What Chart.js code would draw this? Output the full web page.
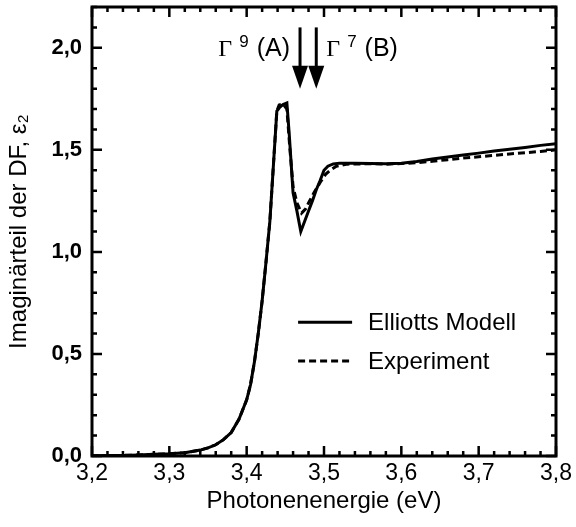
<!DOCTYPE html>
<html>
<head>
<meta charset="utf-8">
<script src="https://cdn.jsdelivr.net/npm/chart.js@4.4.1/dist/chart.umd.min.js"></script>
<style>
  html, body { margin: 0; padding: 0; background: #fff; }
  canvas { display: block; }
</style>
</head>
<body>
<canvas id="myChart" width="576" height="527"></canvas>
<script>
// photon energy (eV) and imaginary part eps2
const modelEnergy = [3.20, 3.22, 3.24, 3.26, 3.28, 3.30, 3.32, 3.34, 3.35, 3.36, 3.37, 3.38, 3.39, 3.40, 3.405, 3.41, 3.415, 3.42, 3.425, 3.43, 3.435, 3.439, 3.443, 3.447, 3.452, 3.455, 3.460, 3.465, 3.470, 3.475, 3.480, 3.485, 3.490, 3.495, 3.500, 3.505, 3.512, 3.52, 3.54, 3.56, 3.58, 3.60, 3.62, 3.64, 3.66, 3.68, 3.70, 3.72, 3.74, 3.76, 3.78, 3.80];
const modelEps2 = [0.001, 0.002, 0.003, 0.005, 0.008, 0.011, 0.016, 0.029, 0.040, 0.055, 0.080, 0.115, 0.180, 0.275, 0.350, 0.460, 0.600, 0.760, 0.950, 1.150, 1.450, 1.690, 1.710, 1.722, 1.730, 1.580, 1.290, 1.200, 1.100, 1.150, 1.200, 1.250, 1.305, 1.350, 1.400, 1.420, 1.431, 1.435, 1.435, 1.433, 1.432, 1.435, 1.443, 1.455, 1.465, 1.475, 1.484, 1.494, 1.503, 1.512, 1.522, 1.530];

const expEnergy = [3.20, 3.22, 3.24, 3.26, 3.28, 3.30, 3.32, 3.34, 3.35, 3.36, 3.37, 3.38, 3.39, 3.40, 3.405, 3.41, 3.415, 3.42, 3.425, 3.43, 3.435, 3.439, 3.442, 3.447, 3.452, 3.456, 3.460, 3.465, 3.471, 3.476, 3.480, 3.487, 3.495, 3.502, 3.508, 3.516, 3.53, 3.56, 3.58, 3.60, 3.62, 3.64, 3.66, 3.68, 3.70, 3.72, 3.74, 3.76, 3.78, 3.80];
const expEps2 = [0.001, 0.002, 0.003, 0.005, 0.008, 0.011, 0.016, 0.029, 0.040, 0.055, 0.080, 0.115, 0.180, 0.275, 0.350, 0.460, 0.600, 0.760, 0.950, 1.150, 1.450, 1.690, 1.720, 1.725, 1.700, 1.500, 1.320, 1.240, 1.190, 1.210, 1.240, 1.290, 1.340, 1.380, 1.400, 1.420, 1.430, 1.432, 1.430, 1.433, 1.437, 1.444, 1.452, 1.460, 1.466, 1.473, 1.480, 1.486, 1.492, 1.500];

const xTicks = [3.2, 3.3, 3.4, 3.5, 3.6, 3.7, 3.8];
const yTicks = [0.0, 0.5, 1.0, 1.5, 2.0];

// exciton transitions marked with arrows
const transitions = [
  { label: "9", name: "(A)", energy: 3.469, side: "left" },
  { label: "7", name: "(B)", energy: 3.490, side: "right" },
];

const seriesNames = ["Elliotts Modell", "Experiment"];

const FONT = "'Liberation Sans', Arial, sans-serif";
const SERIF = "'Liberation Serif', 'Times New Roman', serif";

const toPoints = (xs, ys) => xs.map((x, i) => ({ x: x, y: ys[i] }));
const comma = (v) => v.toFixed(1).replace(".", ",");

// frame, inward ticks, arrows and legend
const decorations = {
  id: "decorations",
  afterDatasetsDraw(chart) {
    const { ctx, chartArea: a, scales } = chart;
    const xs = scales.x, ys = scales.y;
    ctx.save();
    ctx.strokeStyle = "#000";
    ctx.fillStyle = "#000";
    ctx.lineCap = "butt";

    // ticks on all four sides
    ctx.lineWidth = 2.5;
    ctx.beginPath();
    for (let i = 0; i <= 30; i++) {
      const px = xs.getPixelForValue(3.2 + i * 0.02);
      const len = i % 5 === 0 ? 10 : 5;
      ctx.moveTo(px, a.bottom); ctx.lineTo(px, a.bottom - len);
      ctx.moveTo(px, a.top); ctx.lineTo(px, a.top + len);
    }
    for (let i = 0; i <= 22; i++) {
      const py = ys.getPixelForValue(i * 0.1);
      const len = i % 5 === 0 ? 10 : 5;
      ctx.moveTo(a.left, py); ctx.lineTo(a.left + len, py);
      ctx.moveTo(a.right, py); ctx.lineTo(a.right - len, py);
    }
    ctx.stroke();

    // frame
    ctx.lineWidth = 3;
    ctx.strokeRect(a.left, a.top, a.right - a.left, a.bottom - a.top);

    // arrows with labels
    const yTop = ys.getPixelForValue(2.10);
    const yTip = ys.getPixelForValue(1.80);
    transitions.forEach((t) => {
      const px = xs.getPixelForValue(t.energy);
      ctx.lineWidth = 3;
      ctx.beginPath();
      ctx.moveTo(px, yTop);
      ctx.lineTo(px, yTip - 18);
      ctx.stroke();
      ctx.beginPath();
      ctx.moveTo(px - 8, yTip - 23);
      ctx.lineTo(px + 8, yTip - 23);
      ctx.lineTo(px, yTip);
      ctx.closePath();
      ctx.fill();

      const base = ys.getPixelForValue(1.96);
      ctx.textBaseline = "alphabetic";
      ctx.textAlign = "left";
      ctx.font = "24px " + SERIF;
      const gW = ctx.measureText("Γ").width;
      ctx.font = "17px " + FONT;
      const sW = ctx.measureText(t.label).width;
      ctx.font = "25px " + FONT;
      const nW = ctx.measureText(t.name).width;
      const total = gW + 7 + sW + 8 + nW;
      let x0 = t.side === "left" ? px - 10 - total : px + 10;
      ctx.font = "24px " + SERIF;
      ctx.fillText("Γ", x0, base);
      x0 += gW + 7;
      ctx.font = "17px " + FONT;
      ctx.fillText(t.label, x0, base - 9);
      x0 += sW + 8;
      ctx.font = "25px " + FONT;
      ctx.fillText(t.name, x0, base);
    });

    // legend
    const lx = xs.getPixelForValue(3.4665);
    const lx2 = lx + 54;
    const rows = [ys.getPixelForValue(0.655), ys.getPixelForValue(0.466)];
    chart.data.datasets.forEach((ds, i) => {
      ctx.lineWidth = 3;
      ctx.setLineDash(ds.borderDash || []);
      ctx.beginPath();
      ctx.moveTo(lx, rows[i]);
      ctx.lineTo(lx2, rows[i]);
      ctx.stroke();
      ctx.setLineDash([]);
      ctx.font = "24px " + FONT;
      ctx.textAlign = "left";
      ctx.textBaseline = "middle";
      ctx.fillText(ds.label, lx2 + 16, rows[i] + 1);
    });
    ctx.restore();
  },
};

new Chart(document.getElementById("myChart"), {
  type: "line",
  data: {
    datasets: [
      {
        label: seriesNames[0],
        data: toPoints(modelEnergy, modelEps2),
        borderColor: "#000",
        borderWidth: 3,
        pointRadius: 0,
        tension: 0,
      },
      {
        label: seriesNames[1],
        data: toPoints(expEnergy, expEps2),
        borderColor: "#000",
        borderWidth: 3,
        borderDash: [7, 4],
        pointRadius: 0,
        tension: 0,
      },
    ],
  },
  options: {
    responsive: false,
    animation: false,
    layout: { padding: { top: 7, right: 20, left: 0, bottom: 0 } },
    plugins: { legend: { display: false }, tooltip: { enabled: false } },
    scales: {
      x: {
        type: "linear",
        min: 3.2,
        max: 3.8,
        grid: { display: false, drawTicks: false },
        border: { display: false },
        afterBuildTicks: (s) => { s.ticks = xTicks.map((v) => ({ value: v })); },
        afterFit: (s) => {
          s.height = 71;
          s.paddingLeft = 0;
          s.paddingRight = 0;
        },
        ticks: {
          color: "#000",
          padding: 4,
          maxRotation: 0,
          autoSkip: false,
          font: { family: FONT, size: 23 },
          callback: (v) => comma(v),
        },
        title: {
          display: true,
          text: "Photonenenergie (eV)",
          color: "#000",
          font: { family: FONT, size: 24 },
          padding: { top: 0, bottom: 11 },
        },
      },
      y: {
        min: 0,
        max: 2.2,
        grid: { display: false, drawTicks: false },
        border: { display: false },
        afterBuildTicks: (s) => { s.ticks = yTicks.map((v) => ({ value: v })); },
        afterFit: (s) => {
          s.width = 92;
          s.paddingTop = 0;
          s.paddingBottom = 0;
        },
        ticks: {
          color: "#000",
          padding: 10,
          autoSkip: false,
          font: { family: FONT, size: 22, weight: "bold" },
          callback: (v) => comma(v),
        },
        title: {
          display: true,
          text: "Imaginärteil der DF, ε₂",
          color: "#000",
          font: { family: FONT, size: 24 },
          padding: { top: 5, bottom: 0 },
        },
      },
    },
  },
  plugins: [decorations],
});
</script>
</body>
</html>
